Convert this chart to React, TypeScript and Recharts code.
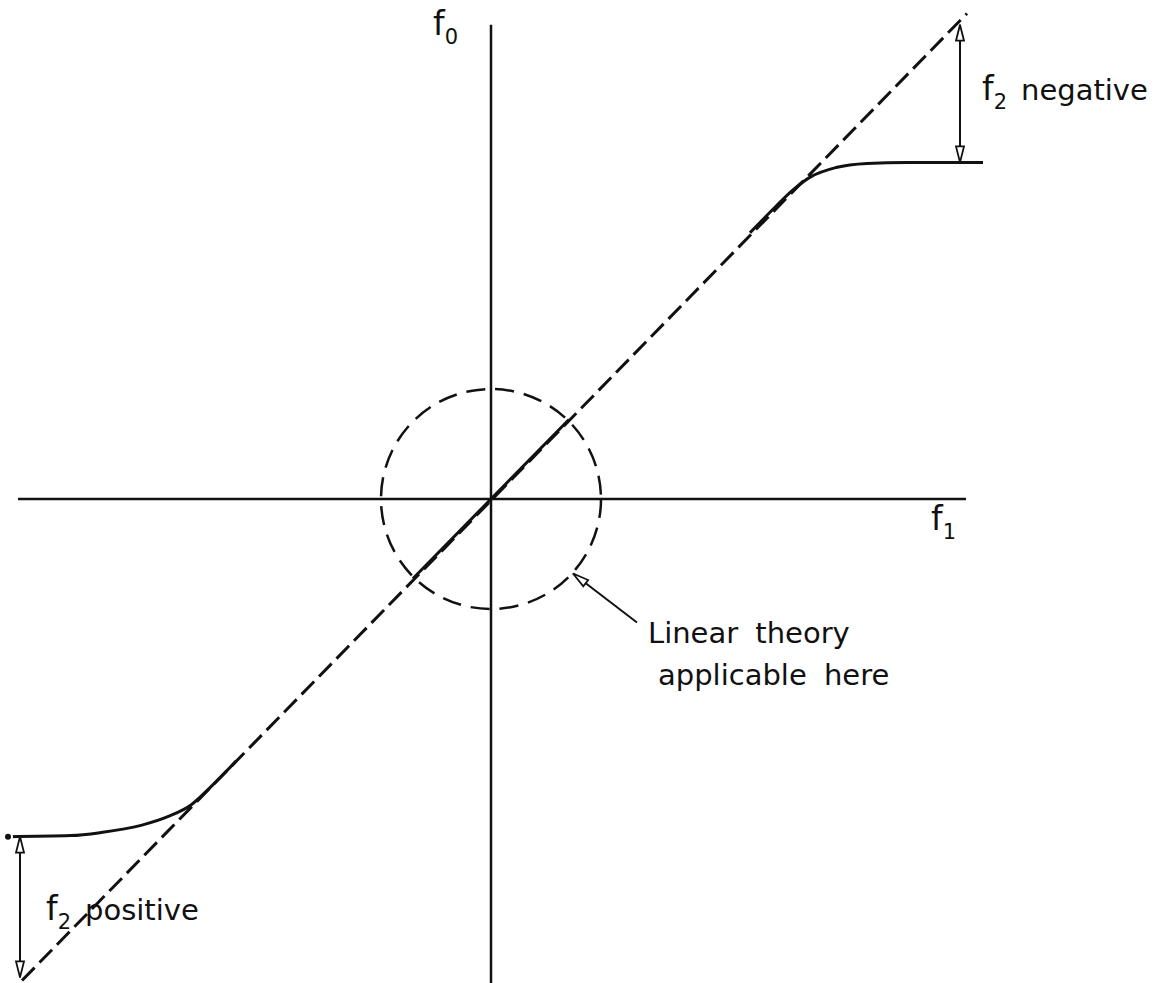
import { LineChart, Line, XAxis, YAxis, ReferenceDot } from "recharts";

// f1 runs along x, f0 along y; the origin sits where the two axes cross
const axisF1 = [-4.73, 4.75];
const axisF0 = [-4.75, 4.65];

// the f0 = f1 line of linear theory (dashed), solid inside the circle
const diagF1 = [-4.69, 4.76];
const diagF0 = [-4.72, 4.76];
const linearF1 = [-0.78, 0.78];
const linearF0 = [-0.78, 0.78];

// saturating response, f2 negative (upper right) and f2 positive (lower left)
const upperF1 = [2.59, 2.85, 3.02, 3.2, 3.45, 3.76, 4.16, 4.92];
const upperF0 = [2.61, 2.87, 3.03, 3.16, 3.25, 3.29, 3.3, 3.3];
const lowerF1 = [-4.83, -4.2, -3.9, -3.5, -3.22, -3.0, -2.8, -2.55];
const lowerF0 = [-3.31, -3.3, -3.27, -3.2, -3.11, -3.0, -2.82, -2.57];

// dimension arrows and the pointer to the circle
const negArrowF1 = [4.69, 4.69];
const negArrowF0 = [4.65, 3.3];
const posArrowF1 = [-4.71, -4.71];
const posArrowF0 = [-3.31, -4.69];
const pointerF1 = [1.46, 0.82];
const pointerF0 = [-1.21, -0.73];

const INK = "#111";
const FONT = "'DejaVu Sans', sans-serif";

const zip = (xs: number[], ys: number[]) => xs.map((x, i) => ({ x, y: ys[i] }));

function arrowDot(heads: number[]) {
  return (p: any) => {
    const { cx, cy, index, points } = p;
    if (!heads.includes(index) || !points) return <g key={`a-${index}`} />;
    const n = points[index === 0 ? 1 : index - 1];
    const a = Math.atan2(cy - n.y, cx - n.x);
    const L = 16;
    const W = 4;
    const bx = cx - L * Math.cos(a);
    const by = cy - L * Math.sin(a);
    const px = -Math.sin(a) * W;
    const py = Math.cos(a) * W;
    return (
      <polygon
        key={`a-${index}`}
        points={`${cx},${cy} ${bx + px},${by + py} ${bx - px},${by - py}`}
        fill="#fff"
        stroke={INK}
        strokeWidth={1.8}
      />
    );
  };
}

function Sym({ cx, cy, sub, word }: { cx?: number; cy?: number; sub: string; word?: string }) {
  return (
    <text x={cx} y={cy} fill={INK} fontFamily={FONT}>
      <tspan fontSize={33}>f</tspan>
      <tspan fontSize={21} dy={9}>{sub}</tspan>
      {word && (
        <tspan fontSize={29} dx={14} dy={-9}>
          {word}
        </tspan>
      )}
    </text>
  );
}

export default function App() {
  return (
    <div style={{ position: "absolute", left: 0, top: 0, width: 1167, height: 983, background: "#fff" }}>
      <LineChart width={1167} height={983} margin={{ top: 0, right: 0, bottom: 0, left: 0 }}>
        <XAxis type="number" dataKey="x" domain={[-4.91, 6.76]} allowDataOverflow hide />
        <YAxis type="number" dataKey="y" domain={[-4.745, 4.892]} allowDataOverflow hide />

        <Line data={zip(axisF1, [0, 0])} dataKey="y" stroke={INK} strokeWidth={2.5} dot={false} isAnimationActive={false} />
        <Line data={zip([0, 0], axisF0)} dataKey="y" stroke={INK} strokeWidth={2.5} dot={false} isAnimationActive={false} />

        <ReferenceDot x={0} y={0} r={110} fill="none" stroke={INK} strokeWidth={2.5} strokeDasharray="19 10" />

        <Line data={zip(diagF1, diagF0)} dataKey="y" stroke={INK} strokeWidth={3} strokeDasharray="18 7" dot={false} isAnimationActive={false} />
        <Line data={zip(linearF1, linearF0)} dataKey="y" stroke={INK} strokeWidth={3} dot={false} isAnimationActive={false} />
        <Line data={zip(upperF1, upperF0)} dataKey="y" type="monotone" stroke={INK} strokeWidth={3} dot={false} isAnimationActive={false} />
        <Line data={zip(lowerF1, lowerF0)} dataKey="y" type="monotone" stroke={INK} strokeWidth={3} dot={false} isAnimationActive={false} />

        <Line data={zip(negArrowF1, negArrowF0)} dataKey="y" stroke={INK} strokeWidth={2} dot={arrowDot([0, 1])} isAnimationActive={false} />
        <Line data={zip(posArrowF1, posArrowF0)} dataKey="y" stroke={INK} strokeWidth={2} dot={arrowDot([0, 1])} isAnimationActive={false} />
        <Line data={zip(pointerF1, pointerF0)} dataKey="y" stroke={INK} strokeWidth={2} dot={arrowDot([1])} isAnimationActive={false} />

        <ReferenceDot x={-0.58} y={4.55} r={0} shape={(p: any) => <Sym cx={p.cx} cy={p.cy} sub="0" />} />
        <ReferenceDot x={4.4} y={-0.3} r={0} shape={(p: any) => <Sym cx={p.cx} cy={p.cy} sub="1" />} />
        <ReferenceDot x={4.91} y={3.91} r={0} shape={(p: any) => <Sym cx={p.cx} cy={p.cy} sub="2" word="negative" />} />
        <ReferenceDot x={-4.45} y={-4.13} r={0} shape={(p: any) => <Sym cx={p.cx} cy={p.cy} sub="2" word="positive" />} />
        <ReferenceDot
          x={1.57}
          y={-1.41}
          r={0}
          shape={(p: any) => (
            <text x={p.cx} y={p.cy} fill={INK} fontFamily={FONT} fontSize={29} wordSpacing={8}>
              <tspan x={p.cx}>Linear theory</tspan>
              <tspan x={p.cx + 10} dy={42}>applicable here</tspan>
            </text>
          )}
        />
      </LineChart>
    </div>
  );
}
